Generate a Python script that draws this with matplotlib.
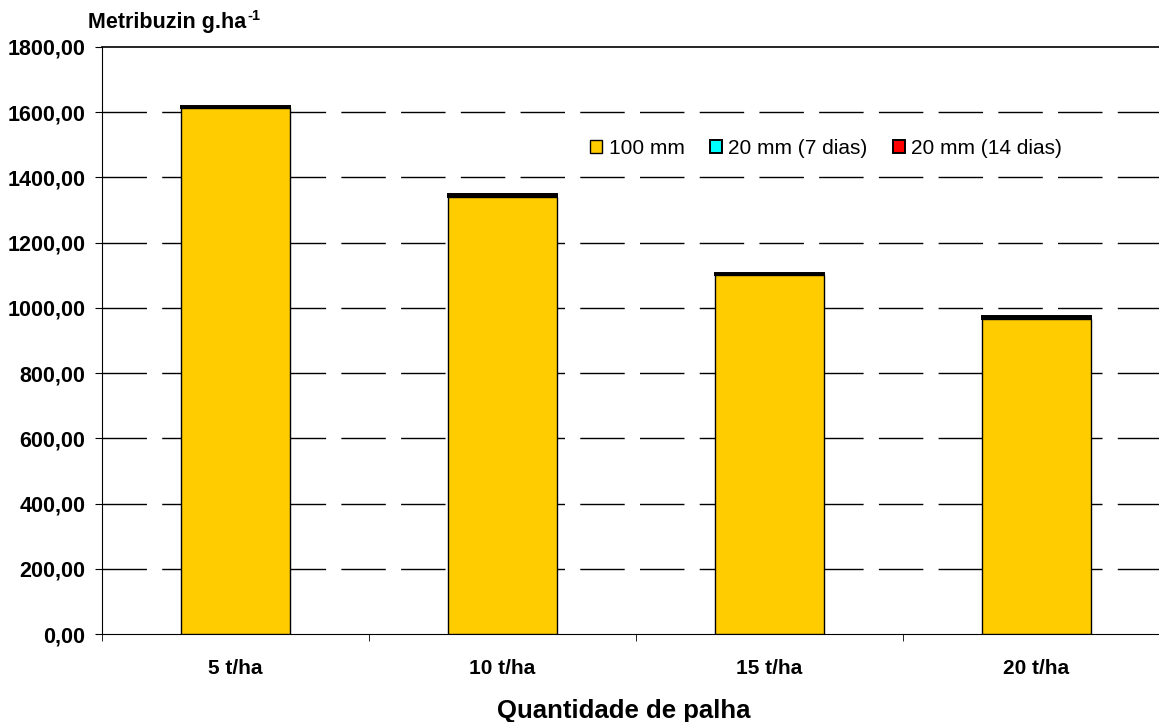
import numpy as np
import matplotlib.pyplot as plt

plt.rcParams['font.family'] = ['Liberation Sans', 'DejaVu Sans']

categorias = ['5 t/ha', '10 t/ha', '15 t/ha', '20 t/ha']
chuva_100mm = [1612, 1340, 1100, 967]
chuva_20mm_7d = [4, 4, 4, 4]
chuva_20mm_14d = [4, 4, 4, 4]
y_ticks = [0, 200, 400, 600, 800, 1000, 1200, 1400, 1600, 1800]

fig = plt.figure(figsize=(11.59, 7.22), dpi=100)
ax = fig.add_axes([102 / 1159, 1 - 634 / 722, 1068 / 1159, 587 / 722])

x = np.arange(len(categorias))
w = 0.41
ax.bar(x, chuva_100mm, w, color='#FFCC00', edgecolor='black', linewidth=1, label='100 mm', zorder=3)
ax.bar(x, chuva_20mm_7d, w, bottom=chuva_100mm, color='#00FFFF', edgecolor='black',
       linewidth=1.4, label='20 mm (7 dias)', zorder=3)
base = np.array(chuva_100mm) + np.array(chuva_20mm_7d)
ax.bar(x, chuva_20mm_14d, w, bottom=base, color='#FF0000', edgecolor='black',
       linewidth=1.4, label='20 mm (14 dias)', zorder=3)

ax.set_xlim(-0.5, len(categorias) - 0.5)
ax.set_ylim(0, 1800)
ax.set_yticks(y_ticks)
ax.set_yticklabels([f'{v:.2f}'.replace('.', ',') for v in y_ticks], fontweight='bold', fontsize=15.5)

# gridlines (dashed), top one solid
for v in y_ticks[1:-1]:
    ax.axhline(v, color='black', linewidth=1, dashes=(32, 11), zorder=1)
ax.axhline(1800, color='black', linewidth=1.2, zorder=1, clip_on=False)

ax.set_xticks(x)
ax.set_xticklabels(categorias, fontweight='bold', fontsize=15)
ax.tick_params(axis='x', which='major', length=0, pad=18)
ax.set_xticks(np.arange(-0.5, len(categorias) + 0.5, 1), minor=True)
ax.tick_params(axis='x', which='minor', length=5, direction='out')
ax.tick_params(axis='y', length=5, direction='out', pad=7)

for s in ['top', 'right']:
    ax.spines[s].set_visible(False)

ax.set_xlabel('Quantidade de palha', fontweight='bold', fontsize=18.5)
ax.xaxis.set_label_coords((624 - 102) / 1068, -(699 - 634) / 587)

t = fig.text(88 / 1159, 1 - 28 / 722, 'Metribuzin g.ha', fontweight='bold',
             fontsize=15.5, ha='left', va='baseline')
fig.canvas.draw()
bb = t.get_window_extent()
fig.text(bb.x1 / 1159 + 0.001, 1 - 20 / 722, '-1', fontweight='bold',
         fontsize=10.5, ha='left', va='baseline')

ax.legend(loc='center', bbox_to_anchor=((826 - 102) / 1068, (634 - 148) / 587), ncol=3,
          frameon=False, fontsize=15, handlelength=0.6, handleheight=0.6,
          handletextpad=0.3, columnspacing=1.2)

fig.savefig('out.png', dpi=100)
